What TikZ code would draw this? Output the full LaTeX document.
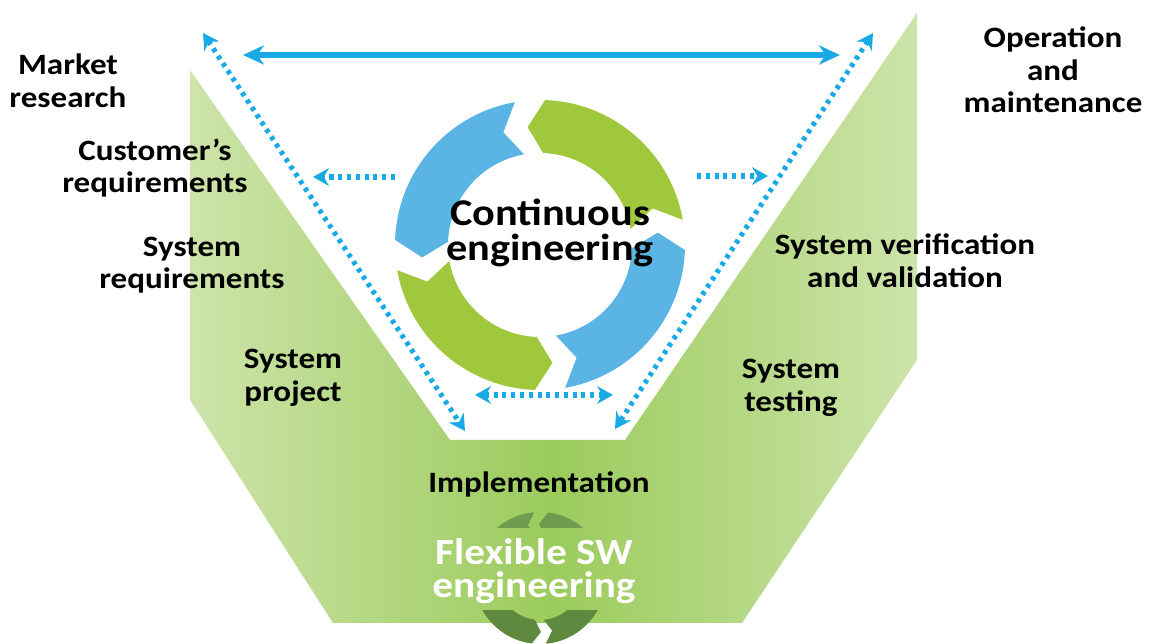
\documentclass[tikz,border=0pt]{standalone}
\usepackage{fontspec}
\setmainfont{Carlito}[FakeStretch=1.12]
\usetikzlibrary{arrows.meta,positioning}

\definecolor{vblue}{RGB}{25,170,230}
\definecolor{cblue}{RGB}{90,180,228}
\definecolor{cgreen}{RGB}{160,200,60}
\definecolor{vlight}{RGB}{205,228,170}
\definecolor{vmid}{RGB}{155,203,92}
\definecolor{darkleaf}{RGB}{95,137,62}
\definecolor{paleleaf}{RGB}{112,155,78}

% curved band with a notched tail and a pointed head
% #1 colour, #2 tail angle, #3 head angle, #4 inner radius, #5 outer radius
\newcommand{\ringarrow}[5]{%
  \fill[#1] (#2:#5) arc[start angle=#2, end angle=#3, radius=#5]
    -- ({#3+8}:{(#4+#5)/2}) -- (#3:#4)
    arc[start angle=#3, end angle=#2, radius=#4]
    -- ({#2+8}:{(#4+#5)/2}) -- cycle;}

\begin{document}
\begin{tikzpicture}[
    x=0.02cm, y=-0.02cm,
    stage/.style={align=center, inner sep=0pt, font=\bfseries\fontsize{16.8}{18.6}\selectfont},
    flow/.style={vblue, line width=3.2pt, {Stealth[length=12pt,width=11pt]}-{Stealth[length=12pt,width=11pt]}},
    dotflow/.style={vblue, line width=2.9pt, dash pattern=on 2.3pt off 2.7pt},
    both/.style={{Stealth[length=9pt,width=10pt]}-{Stealth[length=9pt,width=10pt]}},
    one/.style={-{Stealth[length=9pt,width=10pt]}}
]
\useasboundingbox (0,0) rectangle (1150,644);

% V shaped band
\shade[left color=vlight, right color=vlight, middle color=vmid]
  (190,70) -- (190,400) -- (333,623) -- (742,623) -- (917,360)
  -- (917,13) -- (625,440) -- (450,440) -- cycle;

% small cycle behind the lower text (upper part)
\begin{scope}
  \clip (400,500) rectangle (680,528);
  \begin{scope}[shift={(540,578)}, y=0.02cm]
    \ringarrow{paleleaf}{5}{83}{42}{66}
    \ringarrow{paleleaf}{95}{173}{42}{66}
  \end{scope}
\end{scope}
% lower part
\begin{scope}
  \clip (400,611) rectangle (680,650);
  \begin{scope}[shift={(540,578)}, y=0.02cm]
    \ringarrow{darkleaf}{185}{263}{42}{66}
    \ringarrow{darkleaf}{275}{353}{42}{66}
  \end{scope}
\end{scope}

% continuous cycle
\begin{scope}[shift={(540,245)}, y=0.02cm]
  \ringarrow{cblue}{100}{178}{92}{145}
  \ringarrow{cgreen}{190}{268}{92}{145}
  \ringarrow{cblue}{280}{358}{92}{145}
  \ringarrow{cgreen}{10}{88}{92}{145}
\end{scope}

% end points
\coordinate (topL) at (243,55);
\coordinate (topR) at (840,55);
\coordinate (leftUp) at (203,33);
\coordinate (leftDown) at (465,431);
\coordinate (rightUp) at (873,33);
\coordinate (rightDown) at (615,429);
\coordinate (baseL) at (475,395);
\coordinate (baseR) at (613,395);
\coordinate (outL0) at (395,177);
\coordinate (outL) at (313,177);
\coordinate (outR0) at (697,176);
\coordinate (outR) at (768,176);

% Arrows
\draw[flow] (topL) -- (topR);
\draw[dotflow, both] (leftUp) -- (leftDown);
\draw[dotflow, both] (rightUp) -- (rightDown);
\draw[dotflow, both] (baseL) -- (baseR);
\draw[dotflow, one] (outL0) -- (outL);
\draw[dotflow, one] (outR0) -- (outR);

% Stages
\node[stage] (market) at (68,81) {Market\\research};
\node[stage] (customer) at (155,168) {Customer’s\\requirements};
\node[stage] (sysreq) at (192,265) {System\\requirements};
\node[stage] (project) at (293,378) {System\\project};
\node[stage] (impl) at (539,484) {Implementation};
\node[stage] (testing) at (791,388) {System\\testing};
\node[stage] (verif) at (905,261) {System verification\\and validation};
\node[stage] (operation) at (1053,70) {Operation\\and\\maintenance};
\node[stage, font=\bfseries\fontsize{21.5}{19.5}\selectfont] (cont) at (550,233) {Continuous\\engineering};
\node[stage, text=white, font=\bfseries\fontsize{21}{19}\selectfont] (flex) at (534,571) {Flexible SW\\engineering};

\end{tikzpicture}
\end{document}
